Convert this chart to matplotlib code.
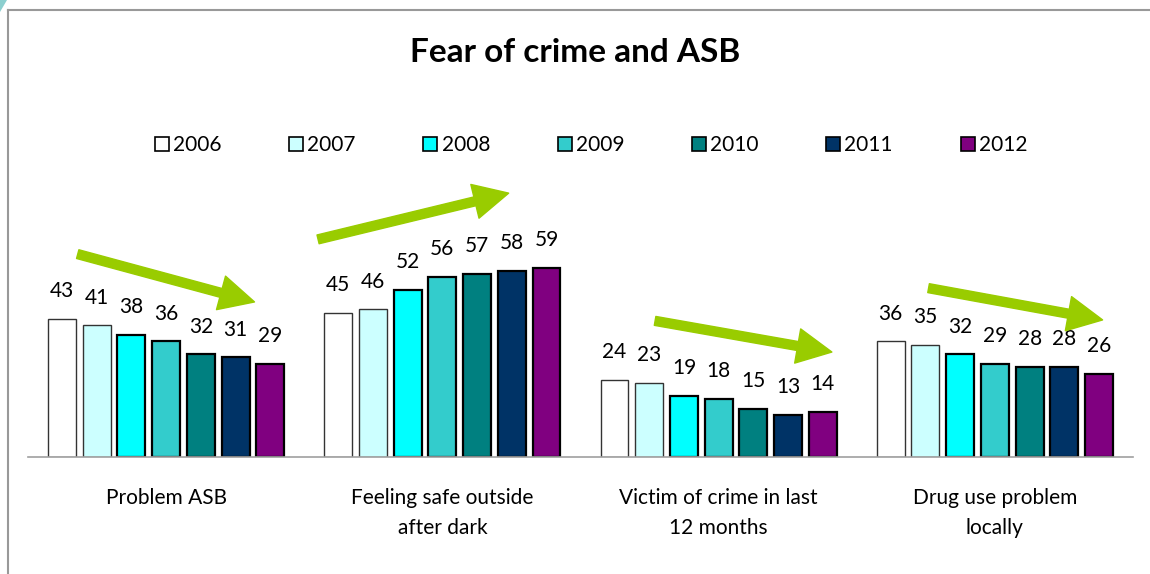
import matplotlib.pyplot as plt
import numpy as np
from matplotlib.lines import Line2D
from matplotlib.patches import Patch, Polygon

plt.rcParams['font.family'] = ['Lato', 'DejaVu Sans']

categories = ['Problem ASB', 'Feeling safe outside\nafter dark',
              'Victim of crime in last\n12 months', 'Drug use problem\nlocally']
years = ['2006', '2007', '2008', '2009', '2010', '2011', '2012']
colors = ['#FFFFFF', '#CCFFFF', '#00FFFF', '#33CCCC', '#008080', '#003366', '#800080']

problem_asb = [43, 41, 38, 36, 32, 31, 29]
feeling_safe = [45, 46, 52, 56, 57, 58, 59]
victim_crime = [24, 23, 19, 18, 15, 13, 14]
drug_use = [36, 35, 32, 29, 28, 28, 26]

# trend arrows: (x tail, y tail, x head, y head) in data units
trend_arrows = [
    (-0.32, 63.2, 0.32, 48.3),
    (0.55, 67.8, 1.24, 82.2),
    (1.77, 42.4, 2.41, 32.7),
    (2.76, 52.6, 3.39, 42.7),
]

values = np.array([problem_asb, feeling_safe, victim_crime, drug_use])

W, H = 1150, 574
fig = plt.figure(figsize=(W / 100, H / 100), dpi=100)
ax = fig.add_axes([28 / W, (H - 457) / H, 1105 / W, 321 / H])

x = np.arange(len(categories))
slot = 0.1257
width = 0.101
for j, year in enumerate(years):
    pos = x + (j - 3) * slot
    lw = 1.0 if j < 2 else 1.6
    ec = '#333333' if j < 2 else 'black'
    bars = ax.bar(pos, values[:, j], width, color=colors[j], edgecolor=ec,
                  linewidth=lw, label=year, zorder=2)
    for b, v in zip(bars, values[:, j]):
        ax.annotate(str(v), (b.get_x() + b.get_width() / 2, v),
                    xytext=(0, 20), textcoords='offset points',
                    ha='center', va='center', fontsize=15)

for x0, y0, x1, y1 in trend_arrows:
    ax.annotate('', xy=(x1, y1), xytext=(x0, y0),
                arrowprops=dict(arrowstyle='simple,head_length=25,head_width=25,tail_width=6.5',
                                mutation_scale=1, color='#99CC00', shrinkA=0, shrinkB=0),
                zorder=3)

ax.set_xlim(-0.5, 3.5)
ax.set_ylim(0, 100)
ax.set_xticks(x)
ax.set_xticklabels(categories, fontsize=15, linespacing=1.65)
ax.tick_params(axis='x', length=0, pad=22)
ax.set_yticks([])
for s in ['top', 'left', 'right']:
    ax.spines[s].set_visible(False)
ax.spines['bottom'].set_color('#A0A0A0')
ax.spines['bottom'].set_linewidth(1.2)

fig.text(575 / W, 1 - 53 / H, 'Fear of crime and ASB', ha='center', va='center',
         fontsize=24, fontweight='bold')

handles = [Patch(facecolor=c, edgecolor='black', linewidth=1.2) for c in colors]
fig.legend(handles, years, loc='center', bbox_to_anchor=(591 / W, 1 - 145 / H),
           ncol=7, frameon=False, fontsize=15, handlelength=0.67, handleheight=0.67,
           handletextpad=0.2, columnspacing=3.25, borderpad=0)

# outer frame
fig.add_artist(Line2D([8 / W, 1], [1 - 10 / H, 1 - 10 / H], color='#999999', lw=1.5))
fig.add_artist(Line2D([8 / W, 8 / W], [0, 1 - 10 / H], color='#999999', lw=1.5))
fig.add_artist(Polygon([[0, 1], [7 / W, 1], [0, 1 - 12 / H]], closed=True,
                       facecolor='#8CCFCF', edgecolor='none'))

fig.savefig('out.png', dpi=100)
